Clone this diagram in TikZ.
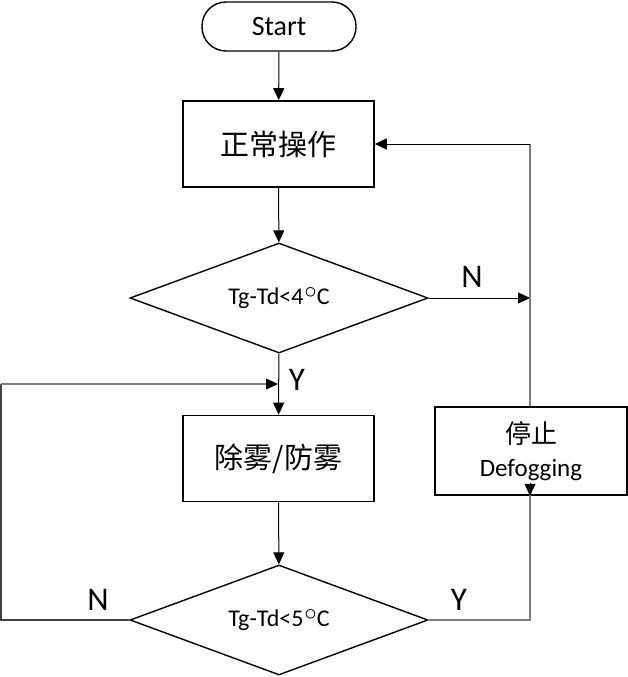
\documentclass[tikz,border=0pt]{standalone}
\usepackage{fontspec}
\setmainfont{Carlito}
\newfontfamily\cjk{Noto Sans CJK SC}
\usetikzlibrary{shapes.geometric,arrows.meta}
\definecolor{lgray}{RGB}{127,127,127}
\definecolor{dgray}{RGB}{64,64,64}
\newcommand{\degsym}{\hspace{0.04em}\raisebox{0.22em}{$\circ$}}
\tikzset{
  box/.style={draw=black, line width=1.6pt, minimum width=191pt, minimum height=86pt, inner sep=0pt, align=center},
  dec/.style={draw=black, line width=1.4pt, diamond, minimum width=298pt, minimum height=110pt, inner sep=0pt, aspect=2.7, font=\fontsize{24}{28}\selectfont},
  term/.style={draw=black, line width=1.4pt, rounded corners=24pt, minimum width=154pt, minimum height=49pt, inner sep=0pt, font=\fontsize{28}{32}\selectfont},
  conn/.style={line width=1pt, -{Triangle[length=12pt,width=11pt]}},
  lab/.style={font=\fontsize{33}{36}\selectfont, inner sep=0pt}
}
\begin{document}
\begin{tikzpicture}[x=1pt,y=-1pt]
\useasboundingbox (0,0) rectangle (628,677);
\node[term] (start) at (279,26.5) {Start};
\node[box, font=\cjk\fontsize{29}{32}\selectfont] (op) at (278.5,144) {正常操作};
\node[dec] (d1) at (279,298) {Tg-Td<4\degsym C};
\node[box, font=\cjk\fontsize{29}{32}\selectfont] (fog) at (278.5,458.5) {除雾/防雾};
\node[dec] (d2) at (279,620) {Tg-Td<5\degsym C};
\node[box, minimum width=192pt, minimum height=88pt, font=\fontsize{25}{33}\selectfont] (stop) at (531,451) {{\cjk\fontsize{26}{33}\selectfont 停止}\\Defogging};
\coordinate (nr) at (530,298);
\coordinate (tr) at (530,144);
\coordinate (yl) at (278,384);
\coordinate (bl) at (1,620);
\coordinate (tl) at (1,384);
\coordinate (br) at (530,620);
\draw[conn] (start) -- (op);
\draw[conn] (op) -- (d1);
\draw[conn] (d1) -- (fog);
\draw[conn] (fog) -- (d2);
\draw[conn] (d1.east) -- (nr);
\draw[line width=1.3pt, lgray] (stop.north -| tr) -- (tr);
\draw[conn] (tr) -- (op.east);
\draw[line width=1.3pt, dgray] (d2.west) -- (bl) -- (tl);
\draw[line width=1.3pt, lgray] (tl) -- ([xshift=-12pt]yl);
\draw[conn] ([xshift=-12.5pt]yl) -- (yl);
\draw[line width=1.3pt, lgray] (d2.east) -- (br) -- ([yshift=12pt]stop.south -| br);
\draw[conn] ([yshift=12.5pt]stop.south -| br) -- (stop.south -| br);
\node[lab] (ln1) at (472,277) {N};
\node[lab] (ly1) at (297,380) {Y};
\node[lab] (ln2) at (98,600) {N};
\node[lab] (ly2) at (459,600) {Y};
\end{tikzpicture}
\end{document}
